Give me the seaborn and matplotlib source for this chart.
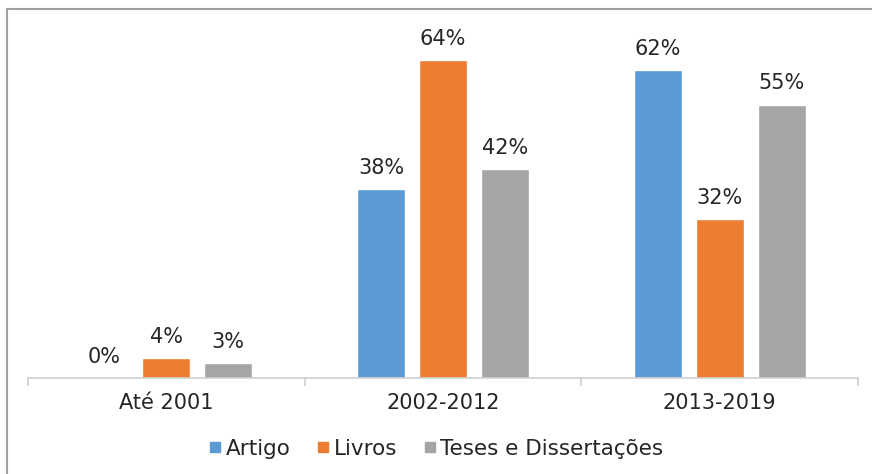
import matplotlib
matplotlib.use("Agg")
import matplotlib.pyplot as plt
from matplotlib.lines import Line2D
from matplotlib.patches import Rectangle
import numpy as np
import pandas as pd
import seaborn as sns

# data
periods = ['Até 2001', '2002-2012', '2013-2019']
series = ['Artigo', 'Livros', 'Teses e Dissertações']
artigo = [0, 38, 62]
livros = [4, 64, 32]
teses = [3, 42, 55]
colors = ['#5b9bd5', '#ed7d31', '#a5a5a5']

df = pd.DataFrame({'Periodo': periods * 3,
                   'Tipo': [s for s in series for _ in periods],
                   'Valor': artigo + livros + teses})

sns.set_theme(style="white")
plt.rcParams['font.family'] = ['DejaVu Sans']
txt = '#262626'

fig = plt.figure(figsize=(8.72, 4.74), dpi=100)
ax = fig.add_axes([28/872, 96/474, 830/872, 358/474])

sns.barplot(data=df, x='Periodo', y='Valor', hue='Tipo', order=periods,
            hue_order=series, palette=colors, width=0.672, gap=0.225,
            saturation=1, legend=False, ax=ax)

for cont in ax.containers:
    ax.bar_label(cont, labels=[f'{v:.0f}%' for v in cont.datavalues],
                 padding=8, fontsize=15, color=txt)

ax.set_xlim(-0.5, 2.5)
ax.set_ylim(0, 72)
ax.set_xlabel('')
ax.set_ylabel('')
ax.set_yticks([])
for s in ['top', 'right', 'left']:
    ax.spines[s].set_visible(False)
ax.spines['bottom'].set_color('#d0d0d0')
ax.spines['bottom'].set_linewidth(1.2)
ax.tick_params(axis='x', length=0, labelsize=15, labelcolor=txt, pad=11)
ax.set_xticks([-0.5, 0.5, 1.5, 2.5], minor=True)
ax.tick_params(axis='x', which='minor', length=6, width=1.2, color='#d0d0d0', bottom=True)

handles = [Line2D([], [], marker='s', linestyle='', markersize=7,
                  markerfacecolor=c, markeredgecolor=c) for c in colors]
fig.legend(handles, series, loc='center', bbox_to_anchor=(0.5, 1 - 449/474),
           ncol=3, frameon=False, fontsize=15.5, handletextpad=0.2,
           columnspacing=1.2, handlelength=0.6, labelcolor=txt)

fig.patches.append(Rectangle((7/872, -0.01), 1.0, 1 - 9/474 + 0.01,
                             transform=fig.transFigure, fill=False,
                             edgecolor='#a0a0a0', linewidth=1.5))

fig.savefig('out.png', dpi=100)
